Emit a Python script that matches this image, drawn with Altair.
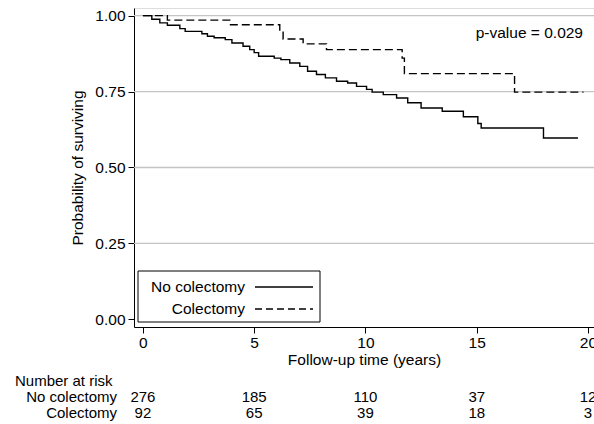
import altair as alt
import pandas as pd

# ---- data ----
groups = ["No colectomy", "Colectomy"]

t_no = [0, 0.4, 0.76, 1.1, 1.66, 1.9, 2.65, 2.9, 3.2, 3.7, 4.0, 4.5, 4.8, 5.0, 5.2,
        5.9, 6.2, 6.6, 7.05, 7.4, 7.8, 8.2, 8.7, 9.2, 9.6, 10.05, 10.3, 10.8, 11.4,
        11.9, 12.5, 13.45, 14.4, 15.05, 15.2, 18.0, 19.55]
s_no = [1.0, 0.988, 0.976, 0.968, 0.957, 0.948, 0.94, 0.932, 0.927, 0.921, 0.910,
        0.899, 0.888, 0.878, 0.866, 0.860, 0.855, 0.844, 0.833, 0.817, 0.806, 0.795,
        0.784, 0.778, 0.767, 0.757, 0.748, 0.740, 0.729, 0.713, 0.696, 0.685, 0.667,
        0.645, 0.630, 0.597, 0.597]

t_col = [0, 1.1, 3.9, 6.15, 6.3, 7.2, 8.25, 11.65, 11.75, 16.7, 19.8]
s_col = [1.0, 0.985, 0.97, 0.95, 0.923, 0.907, 0.888, 0.86, 0.809, 0.748, 0.748]

x_ticks = [0, 5, 10, 15, 20]
y_ticks = [0, 0.25, 0.5, 0.75, 1.0]
grid_vals = [0.25, 0.5, 0.75, 1.0]

risk_times = [0, 5, 10, 15, 20]
risk_no = [276, 185, 110, 37, 12]
risk_col = [92, 65, 39, 18, 3]

p_text = "p-value = 0.029"

# ---- tables ----
df_no = pd.DataFrame({"t": t_no, "s": s_no})
df_col = pd.DataFrame({"t": t_col, "s": s_col})
df_grid = pd.DataFrame({"s": grid_vals})
df_risk_no = pd.DataFrame({"t": risk_times, "n": [str(v) for v in risk_no]})
df_risk_col = pd.DataFrame({"t": risk_times, "n": [str(v) for v in risk_col]})

FONT = "Liberation Sans"
FS = 15.5
FS_R = 15

xscale = alt.Scale(domain=[-0.4, 20.27], nice=False, zero=False)
yscale = alt.Scale(domain=[-0.025, 1.025], nice=False, zero=False)
xaxis = alt.Axis(values=x_ticks, title="Follow-up time (years)", grid=False,
                 tickSize=6, labelPadding=2, titlePadding=2, format="d",
                 domainColor="black", tickColor="black", labelColor="black",
                 titleColor="black", labelFontSize=FS, titleFontSize=FS,
                 titleFontWeight="normal", labelFont=FONT, titleFont=FONT,
                 labelFlush=False, labelOverlap=False)
yaxis = alt.Axis(values=y_ticks, title="Probability of surviving", grid=False,
                 format=".2f", tickSize=6, labelPadding=3, titlePadding=9,
                 domainColor="black", tickColor="black", labelColor="black",
                 titleColor="black", labelFontSize=FS, titleFontSize=FS,
                 titleFontWeight="normal", labelFont=FONT, titleFont=FONT,
                 labelFlush=False, labelOverlap=False)

X = alt.X("t:Q", scale=xscale, axis=xaxis)
Y = alt.Y("s:Q", scale=yscale, axis=yaxis)

grid = alt.Chart(df_grid).mark_rule(stroke="#c4c4c4", strokeWidth=1.3, opacity=1).encode(
    y=Y, x=alt.value(0), x2=alt.value(460))

line_no = alt.Chart(df_no).mark_line(interpolate="step-after", color="black",
                                     strokeWidth=1.4).encode(x=X, y=Y)
line_col = alt.Chart(df_col).mark_line(interpolate="step-after", color="black",
                                       strokeWidth=1.4, strokeDash=[8, 4]).encode(x=X, y=Y)

ptxt = alt.Chart(pd.DataFrame({"lab": [p_text]})).mark_text(
    align="right", baseline="middle", font=FONT, fontSize=FS, color="black").encode(
    text="lab:N", x=alt.value(449), y=alt.value(25))

# legend box (label before key, as in the reference)
leg_box = alt.Chart(pd.DataFrame({"k": [0]})).mark_rect(
    fill="white", stroke="black", strokeWidth=1).encode(
    x=alt.value(4), x2=alt.value(186), y=alt.value(263), y2=alt.value(314))
leg_txt = alt.Chart(pd.DataFrame({"lab": groups, "yy": [279, 301]})).mark_text(
    align="right", baseline="middle", font=FONT, fontSize=FS, color="black").encode(
    text="lab:N", x=alt.value(111), y=alt.Y("yy:Q", scale=None, axis=None))
leg_l1 = alt.Chart(pd.DataFrame({"k": [0]})).mark_rule(color="black", strokeWidth=1.4).encode(
    x=alt.value(121), x2=alt.value(179), y=alt.value(279))
leg_l2 = alt.Chart(pd.DataFrame({"k": [0]})).mark_rule(color="black", strokeWidth=1.4,
                                                       strokeDash=[7, 4]).encode(
    x=alt.value(121), x2=alt.value(179), y=alt.value(301))

# risk table
risk_head = alt.Chart(pd.DataFrame({"lab": ["Number at risk"]})).mark_text(
    align="left", baseline="middle", font=FONT, fontSize=FS_R, color="black").encode(
    text="lab:N", x=alt.value(-119), y=alt.value(373))
risk_lab = alt.Chart(pd.DataFrame({"lab": groups, "yy": [389, 405]})).mark_text(
    align="right", baseline="middle", font=FONT, fontSize=FS_R, color="black").encode(
    text="lab:N", x=alt.value(-17), y=alt.Y("yy:Q", scale=None, axis=None))
risk_n1 = alt.Chart(df_risk_no).mark_text(
    align="center", baseline="middle", font=FONT, fontSize=FS_R, color="black").encode(
    text="n:N", x=X, y=alt.value(389))
risk_n2 = alt.Chart(df_risk_col).mark_text(
    align="center", baseline="middle", font=FONT, fontSize=FS_R, color="black").encode(
    text="n:N", x=X, y=alt.value(405))

chart = alt.layer(
    grid, line_no, line_col, ptxt, leg_box, leg_txt, leg_l1, leg_l2,
    risk_head, risk_lab, risk_n1, risk_n2
).properties(
    width=460, height=319,
    autosize=alt.AutoSizeParams(type="none"),
    padding={"left": 134, "top": 8, "right": 0, "bottom": 97},
    background="white",
).configure_view(stroke=None).configure(font=FONT)

chart.save("out.html", embed_options={"renderer": "svg", "actions": False})
